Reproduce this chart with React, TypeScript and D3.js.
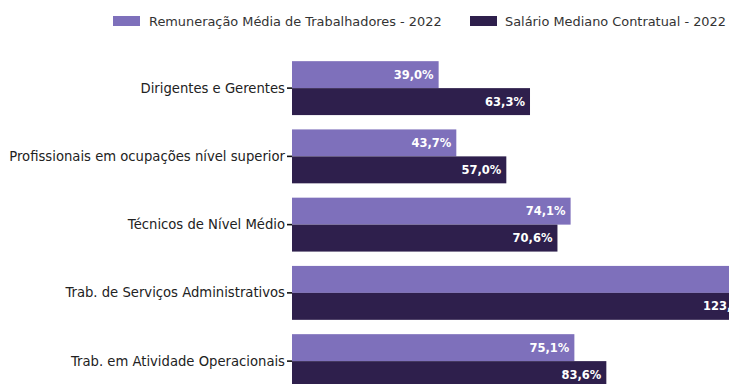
import React from "react";
import * as d3 from "d3";

const categories = [
  "Dirigentes e Gerentes",
  "Profissionais em ocupações nível superior",
  "Técnicos de Nível Médio",
  "Trab. de Serviços Administrativos",
  "Trab. em Atividade Operacionais",
];
const seriesNames = [
  "Remuneração Média de Trabalhadores - 2022",
  "Salário Mediano Contratual - 2022",
];
const remuneracao = [39.0, 43.7, 74.1, 131.8, 75.1];
const salarioMediano = [63.3, 57.0, 70.6, 123.4, 83.6];

const colors = ["#7e70bb", "#2e1f4c"];
const W = 729;
const H = 384;
const fmt = (v: number) => v.toFixed(1).replace(".", ",") + "%";

export default function App() {
  const x = d3.scaleLinear().domain([0, 100]).range([292, 668]);
  const y = d3
    .scaleBand<string>()
    .domain(categories)
    .range([54, 395.25])
    .paddingInner(0.21)
    .paddingOuter(0.105);
  const sub = d3
    .scaleBand<number>()
    .domain([0, 1])
    .range([0, y.bandwidth()]);
  const series = [remuneracao, salarioMediano];
  const font = "'DejaVu Sans', Verdana, sans-serif";
  const legendItems = [
    { swatchX: 113, textX: 149 },
    { swatchX: 470, textX: 505 },
  ];

  return (
    <div style={{ position: "absolute", left: 0, top: 0, width: W, height: H, overflow: "hidden", background: "#fff" }}>
      <svg width={W} height={H} style={{ display: "block", fontFamily: font }}>
        {/* legend */}
        {legendItems.map((item, j) => (
          <g key={j}>
            <rect x={item.swatchX} y={16} width={27} height={10} fill={colors[j]} />
            <text x={item.textX} y={21} dominantBaseline="central" fontSize={12.9} fill="#333">
              {seriesNames[j]}
            </text>
          </g>
        ))}
        {/* bars */}
        {categories.map((c, i) => (
          <g key={c}>
            {series.map((s, j) => {
              const y0 = (y(c) as number) + (sub(j) as number);
              const h = sub.bandwidth();
              const x1 = x(s[i]);
              return (
                <g key={j}>
                  <rect x={x(0)} y={y0} width={x1 - x(0)} height={h} fill={colors[j]} />
                  <text
                    x={x1 - 5}
                    y={y0 + h / 2}
                    textAnchor="end"
                    dominantBaseline="central"
                    fontSize={11.5}
                    fontWeight="bold"
                    fill="#fff"
                  >
                    {fmt(s[i])}
                  </text>
                </g>
              );
            })}
          </g>
        ))}
        {/* category axis */}
        {categories.map((c) => {
          const cy = (y(c) as number) + y.bandwidth() / 2;
          return (
            <g key={c}>
              <line x1={x(0) - 5} x2={x(0)} y1={cy} y2={cy} stroke="#111" strokeWidth={1.6} />
              <text x={x(0) - 7} y={cy} textAnchor="end" dominantBaseline="central" fontSize={13.2} fill="#222">
                {c}
              </text>
            </g>
          );
        })}
      </svg>
    </div>
  );
}
